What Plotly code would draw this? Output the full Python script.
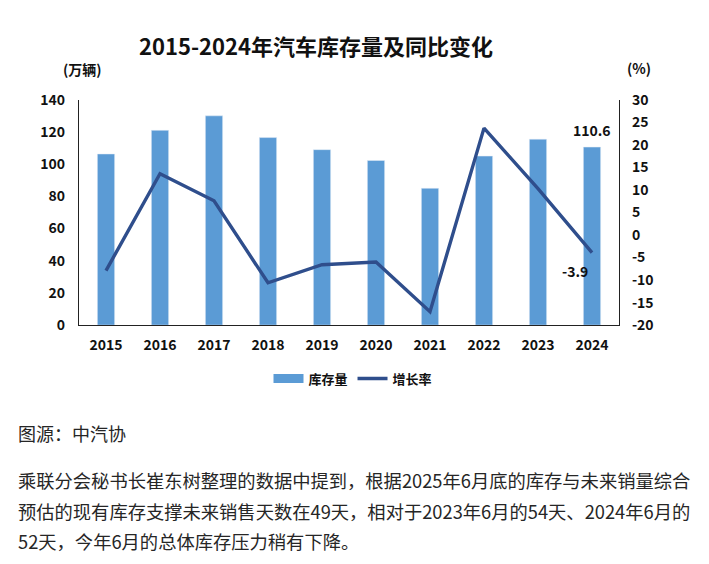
import plotly.graph_objects as go

years = ["2015", "2016", "2017", "2018", "2019", "2020", "2021", "2022", "2023", "2024"]
inventory = [106.3, 121.0, 130.0, 116.5, 109.0, 102.3, 85.0, 105.0, 115.5, 110.6]
growth = [-7.9, 13.6, 7.6, -10.6, -6.6, -6.0, -17.0, 23.7, 10.3, -3.9]
left_ticks = [0, 20, 40, 60, 80, 100, 120, 140]
right_ticks = [-20, -15, -10, -5, 0, 5, 10, 15, 20, 25, 30]

W, H = 709, 564
FONT = "Noto Sans CJK SC"
BAR_C = "#5B9BD5"
LINE_C = "#2F4E8C"
TXT = "#111111"

def px(x):
    return x / W

def py(y):
    return 1 - y / H

fig = go.Figure()
fig.add_trace(go.Bar(x=years, y=inventory, name="库存量", marker=dict(color=BAR_C),
                     xaxis="x", yaxis="y", showlegend=False))
# legend-only entry drawn as a wide flat rectangle like the reference legend key
fig.add_trace(go.Scatter(x=[None], y=[None], name="<b>库存量</b>", mode="lines",
                         line=dict(color=BAR_C, width=9), xaxis="x", yaxis="y"))
fig.add_trace(go.Scatter(x=years, y=growth, name="<b>增长率</b>", mode="lines",
                         line=dict(color=LINE_C, width=3.4), xaxis="x", yaxis="y2"))

tickfont = dict(family=FONT, size=14, color=TXT)

fig.update_layout(
    width=W, height=H,
    margin=dict(l=0, r=0, t=0, b=0, pad=0),
    paper_bgcolor="white", plot_bgcolor="white",
    bargap=0.68,
    showlegend=True,
    legend=dict(orientation="h", x=px(353), y=py(381), xanchor="center", yanchor="middle",
                font=dict(family=FONT, size=13, color=TXT),
                bgcolor="rgba(0,0,0,0)"),
    xaxis=dict(type="category", domain=[px(79), px(619)], range=[-0.5, len(years) - 0.5],
               showline=True, linecolor="#222222",
               linewidth=1.2, ticks="outside", ticklen=7, tickcolor="rgba(0,0,0,0)",
               showgrid=False, zeroline=False, tickfont=tickfont,
               tickmode="array", tickvals=years, ticktext=["<b>%s</b>" % y for y in years]),
    yaxis=dict(domain=[py(325.7), py(92)], range=[0, 140], showline=True,
               linecolor="#222222", linewidth=1.2, ticks="outside", ticklen=10,
               tickcolor="rgba(0,0,0,0)", showgrid=False, zeroline=False, tickfont=tickfont,
               tickmode="array", tickvals=left_ticks,
               ticktext=["<b>%d</b>" % v for v in left_ticks]),
    yaxis2=dict(domain=[py(325.7), py(92)], range=[-20, 30], overlaying="y",
                side="right", anchor="x", showline=True, linecolor="#222222", linewidth=1.2,
                ticks="outside", ticklen=9, tickcolor="rgba(0,0,0,0)",
                showgrid=False, zeroline=False, tickfont=tickfont,
                tickmode="array", tickvals=right_ticks,
                ticktext=["<b>%d</b>" % v for v in right_ticks]),
)

para = [
    "乘联分会秘书长崔东树整理的数据中提到，根据2025年6月底的库存与未来销量综合",
    "预估的现有库存支撑未来销售天数在49天，相对于2023年6月的54天、2024年6月的",
    "52天，今年6月的总体库存压力稍有下降。",
]
para_y = [486, 518, 549]

last = len(years) - 1
annos = [
    dict(text="<b>2015-2024年汽车库存量及同比变化</b>", x=px(316), y=py(35),
         font=dict(family=FONT, size=22, color=TXT)),
    dict(text="<b>(万辆)</b>", x=px(82), y=py(60), font=dict(family=FONT, size=14, color=TXT)),
    dict(text="<b>(%)</b>", x=px(639), y=py(59), font=dict(family=FONT, size=14, color=TXT)),
    dict(text="<b>%s</b>" % inventory[-1], x=last, y=inventory[-1], xref="x", yref="y",
         yshift=17, font=dict(family=FONT, size=14, color=TXT)),
    dict(text="<b>%s</b>" % growth[-1], x=last, y=growth[-1], xref="x", yref="y2",
         xshift=-17, yshift=-18, font=dict(family=FONT, size=14, color=TXT)),
    dict(text="图源：中汽协", x=px(17), y=py(437), xanchor="left",
         font=dict(family=FONT, size=18, color="#262626")),
]
for t, yy in zip(para, para_y):
    annos.append(dict(text=t, x=px(17), y=py(yy), xanchor="left",
                      font=dict(family=FONT, size=18.3, color="#262626")))

for a in annos:
    a.setdefault("xref", "paper")
    a.setdefault("yref", "paper")
    a.setdefault("showarrow", False)
    a.setdefault("xanchor", "center")
    a.setdefault("yanchor", "middle")
    a.setdefault("borderpad", 0)
    fig.add_annotation(**a)

fig.write_html("out.html")
